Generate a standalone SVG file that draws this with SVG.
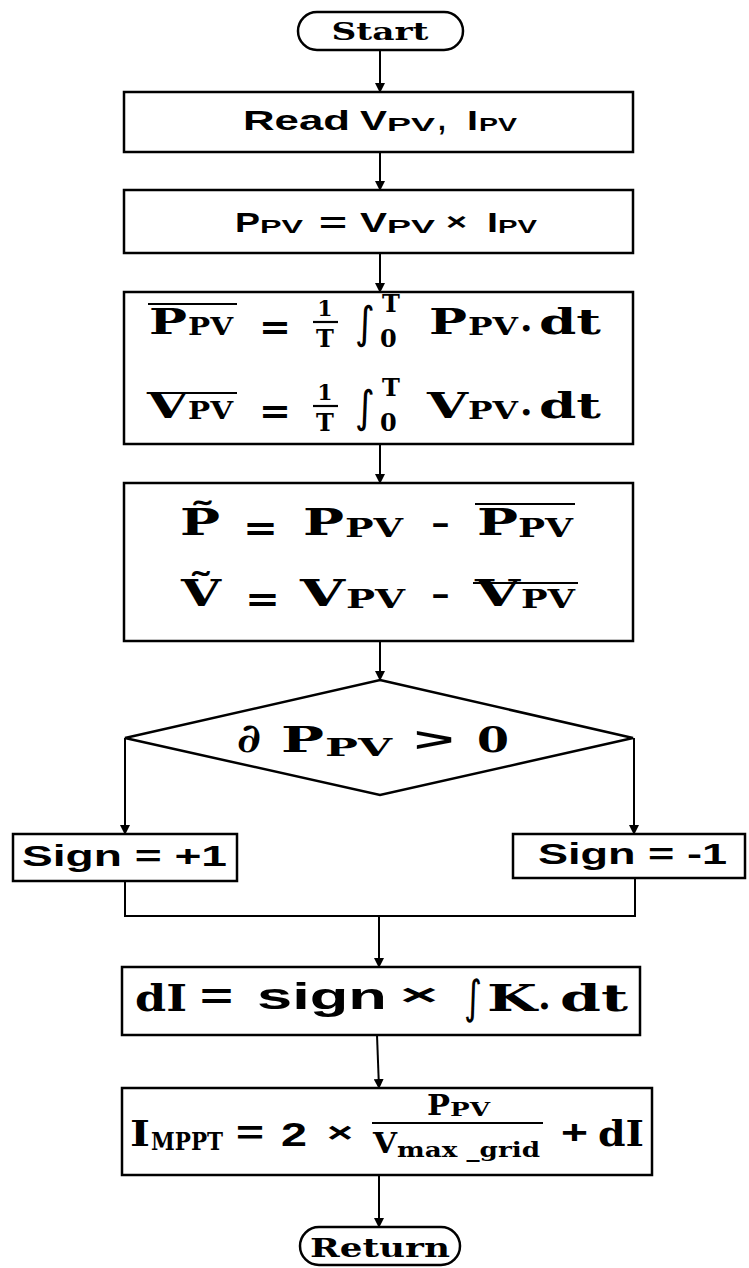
<svg xmlns="http://www.w3.org/2000/svg" width="749" height="1268" viewBox="0 0 749 1268">
<defs>
<marker id="arr" markerWidth="10" markerHeight="10" refX="9" refY="5" orient="auto" markerUnits="userSpaceOnUse">
<path d="M0,0 L10,5 L0,10 Z" fill="#000"/>
</marker>
<style>
.box{fill:#fff;stroke:#000;stroke-width:2.5}
.ln{fill:none;stroke:#000;stroke-width:2}
.ov{stroke:#000;stroke-width:2.2}
.s{font-family:"Liberation Sans",Arial,sans-serif;font-weight:bold;fill:#000}
.m{font-family:"DejaVu Serif","Liberation Serif",serif;font-weight:bold;fill:#000}
.i{font-family:"DejaVu Sans","Liberation Serif",serif;fill:#000}
</style>
</defs>
<rect width="749" height="1268" fill="#fff"/>

<g id="connectors">
<line class="ln" x1="380" y1="50" x2="380" y2="92" marker-end="url(#arr)"/>
<line class="ln" x1="380" y1="152" x2="380" y2="190" marker-end="url(#arr)"/>
<line class="ln" x1="380" y1="253" x2="380" y2="292" marker-end="url(#arr)"/>
<line class="ln" x1="380" y1="444" x2="380" y2="483" marker-end="url(#arr)"/>
<line class="ln" x1="380" y1="641" x2="380" y2="680" marker-end="url(#arr)"/>
<line class="ln" x1="125" y1="738" x2="125" y2="834" marker-end="url(#arr)"/>
<line class="ln" x1="634" y1="738" x2="634" y2="834" marker-end="url(#arr)"/>
<polyline class="ln" points="125,881 125,916 635,916 635,878"/>
<line class="ln" x1="379" y1="916" x2="379" y2="967" marker-end="url(#arr)"/>
<line class="ln" x1="377" y1="1035" x2="379" y2="1088" marker-end="url(#arr)"/>
<line class="ln" x1="379" y1="1175" x2="379" y2="1227" marker-end="url(#arr)"/>
</g>

<g id="start">
<rect class="box" x="298" y="12" width="165" height="38" rx="19" ry="19" stroke-width="2"/>
<text class="m" x="380" y="40" font-size="24" text-anchor="middle" textLength="97" lengthAdjust="spacingAndGlyphs">Start</text>
</g>

<g id="read">
<rect class="box" x="124" y="92" width="509" height="60"/>
<text class="s" x="243" y="130" font-size="28" textLength="107" lengthAdjust="spacingAndGlyphs">Read</text>
<text class="s" x="360" y="130" font-size="28" textLength="27" lengthAdjust="spacingAndGlyphs">V</text>
<text class="s" x="387" y="131" font-size="19" textLength="48" lengthAdjust="spacingAndGlyphs">PV</text>
<text class="s" x="438" y="130" font-size="28">,</text>
<text class="s" x="467" y="130" font-size="28" textLength="11" lengthAdjust="spacingAndGlyphs">I</text>
<text class="s" x="479" y="131" font-size="19" textLength="38" lengthAdjust="spacingAndGlyphs">PV</text>
</g>

<g id="power">
<rect class="box" x="124" y="190" width="509" height="63"/>
<text class="s" x="235" y="232" font-size="28" textLength="25" lengthAdjust="spacingAndGlyphs">P</text>
<text class="s" x="260" y="233" font-size="19" textLength="43" lengthAdjust="spacingAndGlyphs">PV</text>
<text class="s" x="319" y="232" font-size="28" textLength="28" lengthAdjust="spacingAndGlyphs">=</text>
<text class="s" x="360" y="232" font-size="28" textLength="27" lengthAdjust="spacingAndGlyphs">V</text>
<text class="s" x="387" y="233" font-size="19" textLength="48" lengthAdjust="spacingAndGlyphs">PV</text>
<text class="s" x="446" y="230" font-size="24" textLength="21" lengthAdjust="spacingAndGlyphs">×</text>
<text class="s" x="487" y="232" font-size="28" textLength="11" lengthAdjust="spacingAndGlyphs">I</text>
<text class="s" x="498" y="233" font-size="19" textLength="39" lengthAdjust="spacingAndGlyphs">PV</text>
</g>

<g id="average">
<rect class="box" x="124" y="292" width="509" height="152" stroke-width="3"/>
<line class="ov" x1="148" y1="304" x2="237" y2="304"/>
<text class="m" x="149" y="334" font-size="36" textLength="38" lengthAdjust="spacingAndGlyphs">P</text>
<text class="m" x="188" y="335" font-size="24" textLength="45" lengthAdjust="spacingAndGlyphs">PV</text>
<text class="m" x="259" y="339" font-size="36" textLength="32" lengthAdjust="spacingAndGlyphs">=</text>
<text class="m" x="325" y="316" font-size="22" text-anchor="middle">1</text>
<line class="ov" x1="313" y1="322" x2="338" y2="322" stroke-width="2"/>
<text class="m" x="325" y="347" font-size="24" text-anchor="middle">T</text>
<text class="i" x="355" y="338" font-size="44" textLength="20" lengthAdjust="spacingAndGlyphs">∫</text>
<text class="m" x="382" y="312" font-size="24">T</text>
<text class="m" x="380" y="347" font-size="24">0</text>
<text class="m" x="429" y="334" font-size="36" textLength="38" lengthAdjust="spacingAndGlyphs">P</text>
<text class="m" x="468" y="335" font-size="24" textLength="50" lengthAdjust="spacingAndGlyphs">PV</text>
<text class="m" x="520" y="331" font-size="36">.</text>
<text class="m" x="539" y="334" font-size="36" textLength="62" lengthAdjust="spacingAndGlyphs">dt</text>

<line class="ov" x1="148" y1="393" x2="237" y2="393"/>
<text class="m" x="147" y="418" font-size="36" textLength="41" lengthAdjust="spacingAndGlyphs">V</text>
<text class="m" x="188" y="419" font-size="24" textLength="45" lengthAdjust="spacingAndGlyphs">PV</text>
<text class="m" x="259" y="423" font-size="36" textLength="32" lengthAdjust="spacingAndGlyphs">=</text>
<text class="m" x="325" y="400" font-size="22" text-anchor="middle">1</text>
<line class="ov" x1="313" y1="406" x2="338" y2="406" stroke-width="2"/>
<text class="m" x="325" y="431" font-size="24" text-anchor="middle">T</text>
<text class="i" x="355" y="422" font-size="44" textLength="20" lengthAdjust="spacingAndGlyphs">∫</text>
<text class="m" x="382" y="396" font-size="24">T</text>
<text class="m" x="380" y="431" font-size="24">0</text>
<text class="m" x="427" y="418" font-size="36" textLength="41" lengthAdjust="spacingAndGlyphs">V</text>
<text class="m" x="468" y="419" font-size="24" textLength="50" lengthAdjust="spacingAndGlyphs">PV</text>
<text class="m" x="520" y="415" font-size="36">.</text>
<text class="m" x="539" y="418" font-size="36" textLength="62" lengthAdjust="spacingAndGlyphs">dt</text>
</g>

<g id="oscillation">
<rect class="box" x="124" y="483" width="509" height="158" stroke-width="3"/>
<text class="m" x="180" y="535" font-size="37" textLength="40" lengthAdjust="spacingAndGlyphs">P&#x303;</text>
<text class="m" x="243" y="540" font-size="36" textLength="35" lengthAdjust="spacingAndGlyphs">=</text>
<text class="m" x="303" y="535" font-size="37" textLength="41" lengthAdjust="spacingAndGlyphs">P</text>
<text class="m" x="345" y="537" font-size="26" textLength="58" lengthAdjust="spacingAndGlyphs">PV</text>
<text class="s" x="431" y="533" font-size="32" textLength="19" lengthAdjust="spacingAndGlyphs">-</text>
<line class="ov" x1="475" y1="504" x2="575" y2="504"/>
<text class="m" x="477" y="535" font-size="37" textLength="41" lengthAdjust="spacingAndGlyphs">P</text>
<text class="m" x="518" y="537" font-size="26" textLength="55" lengthAdjust="spacingAndGlyphs">PV</text>

<text class="m" x="181" y="606" font-size="37" textLength="40" lengthAdjust="spacingAndGlyphs">V&#x303;</text>
<text class="m" x="245" y="611" font-size="36" textLength="35" lengthAdjust="spacingAndGlyphs">=</text>
<text class="m" x="300" y="606" font-size="37" textLength="45" lengthAdjust="spacingAndGlyphs">V</text>
<text class="m" x="346" y="608" font-size="26" textLength="59" lengthAdjust="spacingAndGlyphs">PV</text>
<text class="s" x="431" y="604" font-size="32" textLength="19" lengthAdjust="spacingAndGlyphs">-</text>
<line class="ov" x1="473" y1="583" x2="578" y2="583"/>
<text class="m" x="475" y="606" font-size="37" textLength="45" lengthAdjust="spacingAndGlyphs">V</text>
<text class="m" x="521" y="608" font-size="26" textLength="54" lengthAdjust="spacingAndGlyphs">PV</text>
</g>

<g id="decision">
<polygon class="box" points="380,680 633,738 380,795 125,738" stroke-width="2"/>
<text class="m" x="237" y="752" font-size="40" textLength="24" lengthAdjust="spacingAndGlyphs">∂</text>
<text class="m" x="281" y="752" font-size="36" textLength="43" lengthAdjust="spacingAndGlyphs">P</text>
<text class="m" x="325" y="756" font-size="25" textLength="67" lengthAdjust="spacingAndGlyphs">PV</text>
<text class="s" x="414" y="751" font-size="34" textLength="40" lengthAdjust="spacingAndGlyphs">&gt;</text>
<text class="m" x="477" y="752" font-size="36" textLength="32" lengthAdjust="spacingAndGlyphs">0</text>
</g>

<g id="sign-plus">
<rect class="box" x="13" y="834" width="224" height="47"/>
<text class="s" x="22" y="866" font-size="29" textLength="205" lengthAdjust="spacingAndGlyphs">Sign = +1</text>
</g>

<g id="sign-minus">
<rect class="box" x="513" y="834" width="232" height="44"/>
<text class="s" x="538" y="864" font-size="29" textLength="189" lengthAdjust="spacingAndGlyphs">Sign = -1</text>
</g>

<g id="increment">
<rect class="box" x="122" y="967" width="518" height="68"/>
<text class="m" x="135" y="1011" font-size="37" textLength="52" lengthAdjust="spacingAndGlyphs">dI</text>
<text class="s" x="200" y="1009" font-size="36" textLength="33" lengthAdjust="spacingAndGlyphs">=</text>
<text class="s" x="257" y="1009" font-size="37" textLength="130" lengthAdjust="spacingAndGlyphs">sign</text>
<text class="s" x="400" y="1005" font-size="30" textLength="38" lengthAdjust="spacingAndGlyphs">×</text>
<text class="i" x="464" y="1013" font-size="46" textLength="18" lengthAdjust="spacingAndGlyphs">∫</text>
<text class="m" x="487" y="1011" font-size="37" textLength="50" lengthAdjust="spacingAndGlyphs">K</text>
<text class="m" x="538" y="1009" font-size="37">.</text>
<text class="m" x="560" y="1011" font-size="37" textLength="68" lengthAdjust="spacingAndGlyphs">dt</text>
</g>

<g id="reference">
<rect class="box" x="122" y="1088" width="530" height="87"/>
<text class="m" x="130" y="1146" font-size="36" textLength="20" lengthAdjust="spacingAndGlyphs">I</text>
<text class="m" x="151" y="1150" font-size="24" textLength="72" lengthAdjust="spacingAndGlyphs">MPPT</text>
<text class="s" x="236" y="1144" font-size="34" textLength="28" lengthAdjust="spacingAndGlyphs">=</text>
<text class="s" x="281" y="1146" font-size="34" textLength="26" lengthAdjust="spacingAndGlyphs">2</text>
<text class="s" x="327" y="1142" font-size="28" textLength="26" lengthAdjust="spacingAndGlyphs">×</text>
<line class="ov" x1="372" y1="1123" x2="543" y2="1123" stroke-width="2.5"/>
<text class="m" x="427" y="1115" font-size="28" textLength="23" lengthAdjust="spacingAndGlyphs">P</text>
<text class="m" x="450" y="1116" font-size="19" textLength="40" lengthAdjust="spacingAndGlyphs">PV</text>
<text class="m" x="373" y="1153" font-size="28" textLength="24" lengthAdjust="spacingAndGlyphs">V</text>
<text class="m" x="397" y="1157" font-size="20" textLength="143" lengthAdjust="spacingAndGlyphs">max _grid</text>
<text class="s" x="561" y="1144" font-size="34" textLength="27" lengthAdjust="spacingAndGlyphs">+</text>
<text class="m" x="598" y="1146" font-size="36" textLength="46" lengthAdjust="spacingAndGlyphs">dI</text>
</g>

<g id="return">
<rect class="box" x="300" y="1227" width="160" height="38" rx="19" ry="19" stroke-width="2"/>
<text class="m" x="380" y="1257" font-size="26" text-anchor="middle" textLength="140" lengthAdjust="spacingAndGlyphs">Return</text>
</g>
</svg>
